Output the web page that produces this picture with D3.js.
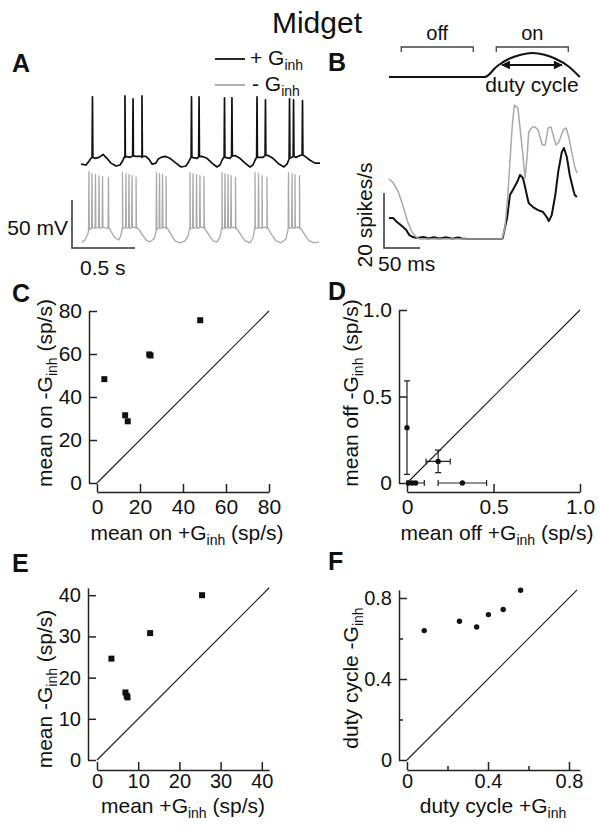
<!DOCTYPE html>
<html><head><meta charset="utf-8">
<script src="https://cdn.jsdelivr.net/npm/d3@7"></script>
<style>
body{margin:0;background:#fff}
svg text{font-family:"Liberation Sans",Arial,Helvetica,sans-serif;fill:#111}
</style>
</head><body>
<svg id="fig" width="600" height="830"></svg>
<script>
// ---------------- DATA ----------------
// Panel A: membrane potential traces (time ms, mV)
const blackBaseline = [[0,-65],[40,-66],[63,-62],[79,-59],[111,-59],[143,-58],[175,-55],[206,-59],[238,-64],[278,-67],[310,-66],[333,-61],[349,-58],[389,-58],[437,-57],[484,-58],[516,-57],[540,-60],[564,-65],[595,-64],[611,-60],[635,-58],[667,-57],[706,-59],[754,-64],[794,-68],[833,-67],[857,-62],[881,-58],[921,-59],[960,-57],[1000,-59],[1040,-64],[1079,-68],[1103,-66],[1119,-61],[1143,-58],[1183,-59],[1222,-56],[1262,-59],[1302,-64],[1341,-68],[1365,-66],[1381,-61],[1405,-58],[1444,-58],[1484,-56],[1524,-59],[1571,-65],[1611,-68],[1635,-65],[1651,-60],[1675,-58],[1706,-58],[1738,-56],[1778,-57],[1818,-61],[1857,-64],[1897,-64]];
const blackSpikeTimes = [91,349,413,484,877,937,1139,1198,1397,1464,1655,1687,1758];
const blackSpikePeaks = [5,6,3,6,5,5,4,4,5,2,3,2,1];
const grayBaseline = [[8,-69],[32,-67],[56,-60],[67,-56],[151,-55],[214,-55],[230,-56],[246,-60],[270,-65],[302,-67],[317,-62],[329,-56],[389,-55],[437,-55],[460,-56],[484,-61],[516,-67],[548,-69],[579,-66],[595,-59],[603,-56],[675,-55],[691,-56],[714,-61],[746,-68],[786,-70],[825,-68],[849,-63],[865,-56],[929,-55],[976,-55],[992,-57],[1016,-62],[1048,-68],[1079,-69],[1103,-64],[1119,-56],[1183,-55],[1226,-55],[1246,-57],[1270,-62],[1302,-68],[1341,-70],[1365,-65],[1381,-56],[1437,-55],[1476,-55],[1492,-57],[1516,-62],[1548,-68],[1587,-70],[1627,-66],[1643,-56],[1698,-55],[1734,-55],[1754,-57],[1778,-62],[1810,-68],[1849,-70],[1889,-69]];
const graySpikeTimes = [63,87,115,143,171,218, 329,357,381,405,437, 599,623,647,675, 865,889,917,944,976, 1119,1143,1167,1191,1226, 1381,1409,1437,1476, 1647,1675,1698,1734];
const graySpikePeaks = [4,2,1,0,-1,-2, 3,2,1,0,-2, 3,2,1,-1, 3,2,1,0,-1, 3,2,1,0,-2, 3,2,0,-2, 3,2,1,0];

// Panel B: firing rate (time ms, spikes/s)
const psthBlack = [[0,7.6],[6,7.6],[11,6.2],[18,4.7],[24,3.3],[28,1.5],[33,0.7],[39,0.4],[48,0.7],[55,0.2],[62,0.6],[70,0.2],[80,0.6],[88,0.1],[96,0.6],[101,0.2],[110,0],[157,0],[158,0.4],[164,7.6],[168,16],[172,17.8],[178,20.7],[182,23.3],[186,22.2],[189,18.9],[192,15.3],[194,13.1],[200,11.6],[207,10.5],[214,9.8],[219,8],[222,6.5],[226,8.7],[231,16],[235,24.4],[240,31.6],[243,33.1],[247,29.8],[251,23.3],[256,17.8],[258,16],[261,15.3]];
const psthGray = [[0,21.8],[6,20.4],[13,17.1],[19,12.4],[26,6.2],[32,2.5],[39,0.4],[43,0],[157,0],[161,4],[165,16],[171,40.4],[174,48.7],[179,47.6],[182,40.4],[186,30.5],[189,22.2],[192,30.5],[194,38.9],[199,40.7],[203,40.7],[207,39.6],[213,34.2],[217,34.2],[221,40.4],[225,40.7],[228,37.8],[232,34.2],[236,35.3],[242,39.6],[246,40.4],[250,36.7],[254,31.3],[258,26.2],[261,24]];
const stimulus = [[0,0],[133,0],[150,0.45],[166,0.75],[183,0.93],[199,1],[216,0.93],[232,0.75],[249,0.45],[265,0]];
const offWindow = [17,117];
const onWindow = [149,249];
const dutyCycle = [157,240];

// Panel C
const cOnPlus  = [3.4,13.1,14.3,24.3,24.9,48.0];
const cOnMinus = [48.3,31.5,28.7,59.8,59.3,75.7];
const cTicks = [0,20,40,60,80];
// Panel D
const dOffPlus  = [0.0,0.01,0.03,0.05,0.18,0.32];
const dOffMinus = [0.32,0,0,0,0.125,0];
const dErrX = [0,0,0,0.05,0.07,0.14];
const dErrY = [0.27,0,0,0,0.065,0];
const dTicks = [0,0.5,1.0];
const dTickLabels = ["0","0.5","1.0"];
// Panel E
const eMeanPlus  = [3.5,6.9,7.4,7.2,12.9,25.5];
const eMeanMinus = [24.6,16.4,15.2,15.6,30.8,40.0];
const eTicks = [0,10,20,30,40];
// Panel F
const fDutyPlus  = [0.085,0.259,0.344,0.402,0.475,0.561];
const fDutyMinus = [0.639,0.685,0.657,0.718,0.743,0.838];
const fTicks = [0,0.2,0.4,0.6,0.8];
const fTickLabels = {"0":"0","0.4":"0.4","0.8":"0.8"};

// ---------------- DRAW ----------------
const svg = d3.select("#fig");
const INK = "#111", GRAY = "#a9a9a9";
const FS = 21;

function richText(parent, x, y, parts, opt = {}) {
  const t = parent.append("text").attr("x", x).attr("y", y)
    .attr("text-anchor", opt.anchor || "middle").attr("font-size", opt.size || FS);
  if (opt.rotate) t.attr("transform", `rotate(-90,${x},${y})`);
  if (opt.weight) t.attr("font-weight", opt.weight);
  let prevSub = false;
  parts.forEach(p => {
    const ts = t.append("tspan").text(p[0]);
    if (p[1] === "sub") { ts.attr("font-size", Math.round((opt.size || FS) * 0.68)).attr("dy", 5); prevSub = true; }
    else if (prevSub) { ts.attr("dy", -5); prevSub = false; }
  });
  return t;
}

// Title & panel letters
richText(svg, 317, 33, [["Midget"]], {size: 30});
[["A",12,72],["B",328,71],["C",12,302],["D",328,300],["E",12,572],["F",328,570]].forEach(d => {
  richText(svg, d[1], d[2], [[d[0]]], {anchor: "start", size: 25, weight: "bold"});
});

// ---------- Panel A ----------
const xA = d3.scaleLinear().domain([0, 1900]).range([81, 81 + 1900 * 0.126]);
const yA = d3.scaleLinear().domain([-65, -15]).range([238, 190]);
const blackOffset = 77;
function buildTrace(base, times, peaks) {
  const interp = d3.scaleLinear().domain(base.map(d => d[0])).range(base.map(d => d[1]));
  const pts = base.map(d => [d[0], d[1]]);
  times.forEach((t, i) => {
    const vb = interp(t);
    pts.push([t - 3, vb + 1], [t, peaks[i]], [t + 3, vb + 1]);
  });
  return pts.sort((a, b) => a[0] - b[0]);
}
const gA = svg.append("g");
const grayTrace = buildTrace(grayBaseline, graySpikeTimes, graySpikePeaks);
const blackTrace = buildTrace(blackBaseline, blackSpikeTimes, blackSpikePeaks);
gA.append("path").datum(grayTrace)
  .attr("d", d3.line().x(d => xA(d[0])).y(d => yA(d[1])))
  .attr("fill", "none").attr("stroke", GRAY).attr("stroke-width", 1.3).attr("stroke-linejoin", "round");
gA.append("path").datum(blackTrace)
  .attr("d", d3.line().x(d => xA(d[0])).y(d => yA(d[1] + blackOffset)))
  .attr("fill", "none").attr("stroke", INK).attr("stroke-width", 1.7).attr("stroke-linejoin", "round");
// legend
gA.append("line").attr("x1", 215).attr("x2", 245).attr("y1", 59).attr("y2", 59).attr("stroke", INK).attr("stroke-width", 1.8);
gA.append("line").attr("x1", 215).attr("x2", 245).attr("y1", 85).attr("y2", 85).attr("stroke", GRAY).attr("stroke-width", 1.8);
richText(gA, 250, 65, [["+ G"], ["inh", "sub"]], {anchor: "start"});
richText(gA, 252, 91, [["- G"], ["inh", "sub"]], {anchor: "start"});
// scale bar A (500 ms, 50 mV)
const sbA = {x: 72, y: 248};
const lenT = xA(500) - xA(0), lenV = yA(-65) - yA(-15);
gA.append("path").attr("d", `M${sbA.x},${sbA.y - lenV}V${sbA.y}H${sbA.x + lenT}`)
  .attr("fill", "none").attr("stroke", "#333").attr("stroke-width", 1.5);
richText(gA, 68, 235, [["50 mV"]], {anchor: "end"});
richText(gA, 80, 275, [["0.5 s"]], {anchor: "start"});

// ---------- Panel B ----------
const xB = d3.scaleLinear().domain([0, 261]).range([389, 389 + 261 * 0.72]);
const yB = d3.scaleLinear().domain([0, 20]).range([239, 184]);
const gB = svg.append("g");
gB.append("path").datum(psthBlack)
  .attr("d", d3.line().x(d => xB(d[0])).y(d => yB(d[1])))
  .attr("fill", "none").attr("stroke", INK).attr("stroke-width", 2).attr("stroke-linejoin", "round");
gB.append("path").datum(psthGray)
  .attr("d", d3.line().x(d => xB(d[0])).y(d => yB(d[1])))
  .attr("fill", "none").attr("stroke", GRAY).attr("stroke-width", 1.5).attr("stroke-linejoin", "round");
// scale bar B (50 ms, 20 sp/s)
const sbB = {x: 384, y: 248};
gB.append("path").attr("d", `M${sbB.x},${sbB.y - (yB(0) - yB(20))}V${sbB.y}H${sbB.x + xB(50) - xB(0)}`)
  .attr("fill", "none").attr("stroke", "#333").attr("stroke-width", 1.5);
richText(gB, 372, 215, [["20 spikes/s"]], {rotate: true});
richText(gB, 378, 271, [["50 ms"]], {anchor: "start"});
// stimulus schematic
const stimY = d3.scaleLinear().domain([0, 1]).range([77, 53]);
gB.append("path").datum(stimulus)
  .attr("d", d3.line().x(d => xB(d[0])).y(d => stimY(d[1])).curve(d3.curveMonotoneX))
  .attr("fill", "none").attr("stroke", INK).attr("stroke-width", 2);
[[offWindow, "off"], [onWindow, "on"]].forEach(([w, lab]) => {
  gB.append("path").attr("d", `M${xB(w[0])},52V47H${xB(w[1])}V52`)
    .attr("fill", "none").attr("stroke", "#444").attr("stroke-width", 1.3);
  richText(gB, (xB(w[0]) + xB(w[1])) / 2, 40, [[lab]], {size: 20});
});
const defs = svg.append("defs");
["s", "e"].forEach(k => {
  defs.append("marker").attr("id", "arr" + k).attr("viewBox", "0 0 10 10")
    .attr("refX", k === "e" ? 9 : 1).attr("refY", 5).attr("markerWidth", 5).attr("markerHeight", 4)
    .attr("orient", "auto")
    .append("path").attr("d", k === "e" ? "M0,0L10,5L0,10z" : "M10,0L0,5L10,10z").attr("fill", INK);
});
gB.append("line").attr("x1", xB(dutyCycle[0])).attr("x2", xB(dutyCycle[1])).attr("y1", 65).attr("y2", 65)
  .attr("stroke", INK).attr("stroke-width", 2.2)
  .attr("marker-start", "url(#arrs)").attr("marker-end", "url(#arre)");
richText(gB, 532, 92, [["duty cycle"]]);

// ---------- Scatter panels ----------
function scatterPanel(o) {
  const g = svg.append("g");
  const xs = d3.scaleLinear().domain([0, o.xMax]).range([o.x0, o.x0 + o.xMax * o.k]);
  const ys = d3.scaleLinear().domain([0, o.yMax]).range([o.y0, o.y0 - o.yMax * o.k]);
  const fmt = o.fmt || (d => String(d));
  const tf = o.tickFont || FS;
  const ax = g.append("g").attr("transform", `translate(0,${o.xAxisY})`)
    .call(d3.axisBottom(xs).tickValues(o.ticks).tickSize(-8).tickSizeOuter(0).tickPadding(o.xPad || 7).tickFormat(fmt));
  const ay = g.append("g").attr("transform", `translate(${o.yAxisX},0)`)
    .call(d3.axisLeft(ys).tickValues(o.ticks).tickSize(-8).tickSizeOuter(0).tickPadding(7).tickFormat(fmt));
  [ax, ay].forEach(a => {
    a.attr("font-size", tf).attr("font-family", null);
    a.selectAll("path,line").attr("stroke", "#222").attr("stroke-width", 1.5);
    if (o.minor) {
      a.selectAll(".tick").filter(d => o.minor.includes(d)).select("line")
        .attr(a === ax ? "y2" : "x2", a === ax ? -4 : 4);
    }
  });
  // identity line
  const m = Math.min(o.xMax, o.yMax);
  g.append("path").datum([[0, 0], [m, m]])
    .attr("d", d3.line().x(d => xs(d[0])).y(d => ys(d[1])))
    .attr("stroke", "#222").attr("stroke-width", 1.2).attr("fill", "none");
  // error bars
  if (o.ex) {
    o.xv.forEach((xv, i) => {
      const yv = o.yv[i], cap = 3;
      if (o.ex[i] > 0) {
        g.append("path").attr("d", `M${xs(xv - o.ex[i])},${ys(yv)}H${xs(xv + o.ex[i])}M${xs(xv - o.ex[i])},${ys(yv) - cap}v${2 * cap}M${xs(xv + o.ex[i])},${ys(yv) - cap}v${2 * cap}`)
          .attr("stroke", "#222").attr("stroke-width", 1.2).attr("fill", "none");
      }
      if (o.ey[i] > 0) {
        g.append("path").attr("d", `M${xs(xv)},${ys(yv - o.ey[i])}V${ys(yv + o.ey[i])}M${xs(xv) - cap},${ys(yv - o.ey[i])}h${2 * cap}M${xs(xv) - cap},${ys(yv + o.ey[i])}h${2 * cap}`)
          .attr("stroke", "#222").attr("stroke-width", 1.2).attr("fill", "none");
      }
    });
  }
  const pts = o.xv.map((x, i) => [x, o.yv[i]]);
  if (o.square) {
    g.selectAll("rect.pt").data(pts).join("rect").attr("class", "pt")
      .attr("x", d => xs(d[0]) - 3).attr("y", d => ys(d[1]) - 3).attr("width", 6).attr("height", 6).attr("fill", INK);
  } else {
    g.selectAll("circle.pt").data(pts).join("circle").attr("class", "pt")
      .attr("cx", d => xs(d[0])).attr("cy", d => ys(d[1])).attr("r", 2.7).attr("fill", INK);
  }
  richText(g, o.xl[0], o.xl[1], o.xLabel);
  richText(g, o.yl[0], o.yl[1], o.yLabel, {rotate: true});
}

scatterPanel({x0: 97, y0: 483, k: 2.15, xMax: 80, yMax: 80, xAxisY: 492, yAxisX: 89,
  ticks: cTicks, xv: cOnPlus, yv: cOnMinus, square: true,
  xl: [187, 540], xLabel: [["mean on +G"], ["inh", "sub"], [" (sp/s)"]],
  yl: [52, 393], yLabel: [["mean on -G"], ["inh", "sub"], [" (sp/s)"]]});

scatterPanel({x0: 407, y0: 483, k: 173, xMax: 1, yMax: 1, xAxisY: 492, yAxisX: 399,
  ticks: dTicks, fmt: d => dTickLabels[dTicks.indexOf(d)], xv: dOffPlus, yv: dOffMinus, ex: dErrX, ey: dErrY,
  xl: [497, 540], xLabel: [["mean off +G"], ["inh", "sub"], [" (sp/s)"]],
  yl: [358, 393], yLabel: [["mean off -G"], ["inh", "sub"], [" (sp/s)"]]});

scatterPanel({x0: 97, y0: 760, k: 4.12, xMax: 41.8, yMax: 41.8, xAxisY: 770, yAxisX: 88,
  ticks: eTicks, xv: eMeanPlus, yv: eMeanMinus, square: true, tickFont: 20, xPad: 4,
  xl: [183, 813], xLabel: [["mean +G"], ["inh", "sub"], [" (sp/s)"]],
  yl: [52, 689], yLabel: [["mean -G"], ["inh", "sub"], [" (sp/s)"]]});

scatterPanel({x0: 407, y0: 760, k: 202.5, xMax: 0.854, yMax: 0.84, xAxisY: 770, yAxisX: 399,
  ticks: fTicks, minor: [0.2, 0.6], fmt: d => fTickLabels[String(d)] || "", xv: fDutyPlus, yv: fDutyMinus,
  tickFont: 20, xPad: 4,
  xl: [493, 813], xLabel: [["duty cycle +G"], ["inh", "sub"]],
  yl: [358, 678], yLabel: [["duty cycle -G"], ["inh", "sub"]]});
</script>
</body></html>
